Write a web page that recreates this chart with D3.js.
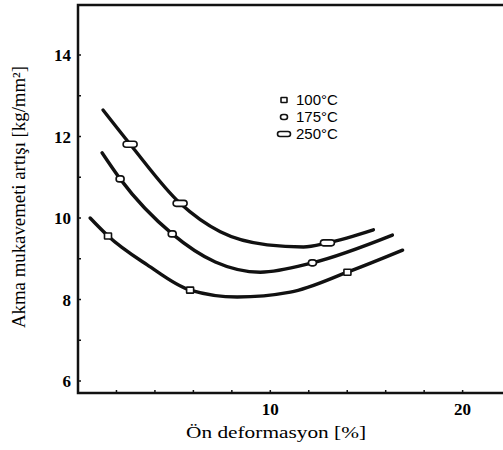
<!DOCTYPE html>
<html>
<head>
<meta charset="utf-8">
<script src="https://cdn.jsdelivr.net/npm/d3@7"></script>
<style>
  body { margin: 0; background: #fff; }
  svg { display: block; }
</style>
</head>
<body>
<div id="chart-area"></div>
<script>
// curve points, [x %, y kg/mm2]
var curve100 = [[0.63, 10.0], [1.56, 9.56], [3.6, 8.85], [5.83, 8.23], [8.28, 8.06], [11.04, 8.18], [14.01, 8.67], [16.88, 9.21]];
var curve175 = [[1.25, 11.6], [2.19, 10.96], [4.9, 9.61], [7.14, 8.92], [9.48, 8.67], [12.19, 8.9], [16.35, 9.58]];
var curve250 = [[1.3, 12.65], [2.71, 11.81], [5.31, 10.36], [7.4, 9.66], [9.84, 9.34], [11.72, 9.29], [12.97, 9.39], [15.36, 9.71]];

// measured points (markers)
var marks100 = [[1.56, 9.56], [5.83, 8.23], [14.01, 8.67]];
var marks175 = [[2.19, 10.96], [4.9, 9.61], [12.19, 8.9]];
var marks250 = [[2.71, 11.81], [5.31, 10.36], [12.97, 9.39]];

var legendLabels = ["100°C", "175°C", "250°C"];
var xTickLabels = [10, 20];
var yTickLabels = [6, 8, 10, 12, 14];

var W = 503, H = 450;
var pLeft = 78, pTop = 5, pRight = 503, pBottom = 393;

var svg = d3.select("#chart-area")
    .append("svg")
        .attr("width", W)
        .attr("height", H);

var x = d3.scaleLinear()
    .domain([0, 22.1])
    .range([pLeft, pRight]);
var y = d3.scaleLinear()
    .domain([6, 14])
    .range([381, 55]);

var serif = "'Liberation Serif', 'DejaVu Serif', serif";

// frame: top, left and bottom lines (no right edge)
svg.append("path")
    .attr("d", "M" + pRight + "," + pTop + "H" + pLeft + "V" + pBottom + "H" + pRight)
    .attr("fill", "none")
    .attr("stroke", "#111")
    .attr("stroke-width", 2.5);

// small inward ticks
var xMinor = d3.range(2, 22, 2);
svg.selectAll(".xt").data(xMinor).enter().append("line")
    .attr("x1", function(d) { return x(d); })
    .attr("x2", function(d) { return x(d); })
    .attr("y1", pBottom)
    .attr("y2", pBottom - 3)
    .attr("stroke", "#111")
    .attr("stroke-width", 1.5);

var yMinor = d3.range(6, 15, 1);
svg.selectAll(".yt").data(yMinor).enter().append("line")
    .attr("x1", pLeft)
    .attr("x2", pLeft + 3)
    .attr("y1", function(d) { return y(d); })
    .attr("y2", function(d) { return y(d); })
    .attr("stroke", "#111")
    .attr("stroke-width", 1.5);

// tick labels
svg.selectAll(".xl").data(xTickLabels).enter().append("text")
    .attr("x", function(d) { return x(d); })
    .attr("y", pBottom + 22)
    .attr("text-anchor", "middle")
    .attr("font-family", serif)
    .attr("font-weight", "bold")
    .attr("font-size", "17px")
    .text(function(d) { return d; });

svg.selectAll(".yl").data(yTickLabels).enter().append("text")
    .attr("x", pLeft - 7)
    .attr("y", function(d) { return y(d) + 6; })
    .attr("text-anchor", "end")
    .attr("font-family", serif)
    .attr("font-weight", "bold")
    .attr("font-size", "17px")
    .text(function(d) { return d; });

// axis titles
svg.append("text")
    .attr("x", 276)
    .attr("y", 438)
    .attr("text-anchor", "middle")
    .attr("font-family", serif)
    .attr("font-size", "17px")
    .attr("textLength", 180)
    .attr("lengthAdjust", "spacingAndGlyphs")
    .text("Ön deformasyon [%]");

svg.append("text")
    .attr("transform", "translate(25,197) rotate(-90)")
    .attr("text-anchor", "middle")
    .attr("font-family", serif)
    .attr("font-size", "18px")
    .attr("textLength", 262)
    .attr("lengthAdjust", "spacingAndGlyphs")
    .text("Akma mukavemeti artışı [kg/mm²]");

// curves
var line = d3.line()
    .x(function(d) { return x(d[0]); })
    .y(function(d) { return y(d[1]); })
    .curve(d3.curveMonotoneX);

[curve100, curve175, curve250].forEach(function(c) {
    svg.append("path")
        .attr("d", line(c))
        .attr("fill", "none")
        .attr("stroke", "#111")
        .attr("stroke-width", 3.4)
        .attr("stroke-linecap", "round");
});

// markers
function drawMarks(data, w, h, r) {
    svg.selectAll(null).data(data).enter().append("rect")
        .attr("x", function(d) { return x(d[0]) - w / 2; })
        .attr("y", function(d) { return y(d[1]) - h / 2; })
        .attr("width", w)
        .attr("height", h)
        .attr("rx", r)
        .attr("fill", "#fff")
        .attr("stroke", "#111")
        .attr("stroke-width", 1.6);
}
drawMarks(marks100, 7, 6, 0.5);
drawMarks(marks175, 8, 6, 3);
drawMarks(marks250, 14, 6, 3);

// legend
var legend = svg.append("g")
    .attr("transform", "translate(284,100)");
var legendShapes = [[6, 5, 0.5], [7, 5, 2.5], [13, 5, 2.5]];
legendLabels.forEach(function(label, i) {
    var row = legend.append("g")
        .attr("transform", "translate(0," + (i * 17) + ")");
    var s = legendShapes[i];
    row.append("rect")
        .attr("x", -s[0] / 2)
        .attr("y", -s[1] / 2)
        .attr("width", s[0])
        .attr("height", s[1])
        .attr("rx", s[2])
        .attr("fill", "#fff")
        .attr("stroke", "#111")
        .attr("stroke-width", 1.6);
    row.append("text")
        .attr("x", 12)
        .attr("y", 5)
        .attr("font-family", "'Liberation Sans Narrow', 'Liberation Sans', sans-serif")
        .attr("font-size", "15px")
        .text(label);
});
</script>
</body>
</html>
